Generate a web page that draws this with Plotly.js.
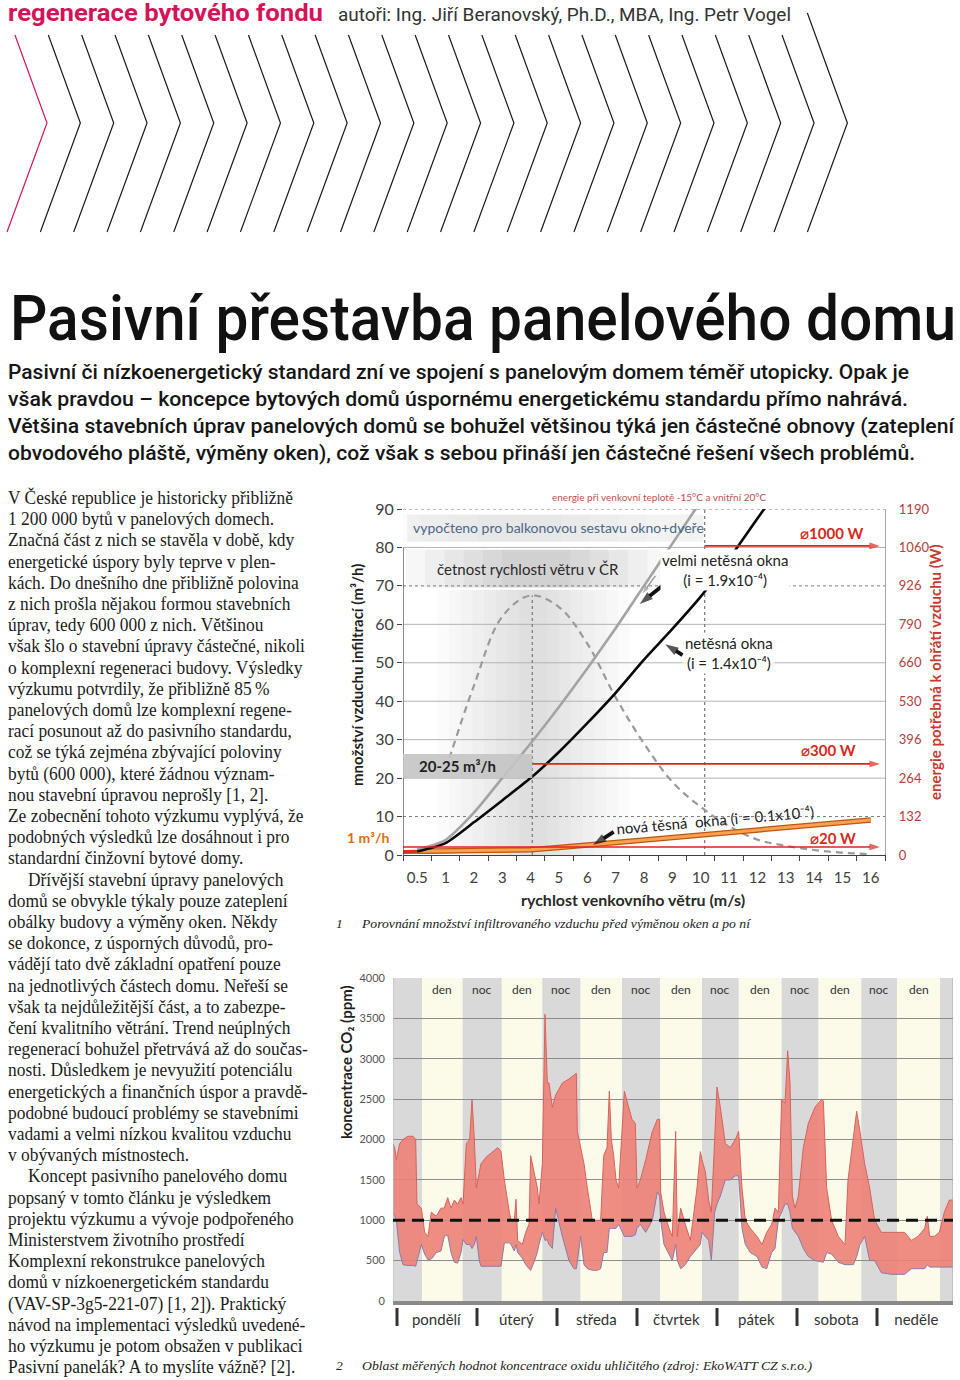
<!DOCTYPE html>
<html lang="cs">
<head>
<meta charset="utf-8">
<script src="https://cdn.plot.ly/plotly-3.0.1.min.js"></script>
<style>
html,body{margin:0;padding:0;background:#fff;}
#page{position:relative;width:960px;height:1380px;overflow:hidden;background:#fff;}
#plot{position:absolute;left:0;top:0;width:960px;height:1380px;}
.t{position:absolute;white-space:nowrap;transform-origin:0 0;line-height:normal;}
.bl{display:inline-block;width:0;height:0;vertical-align:baseline;}
</style>
</head>
<body>
<div id="page"><div id="plot"></div></div>
<script>
// ================= DATA =================
// Chart 1 – infiltration vs. wind speed (categorical wind axis)
const windLabels = ['0.5','1','2','3','4','5','6','7','8','9','10','11','12','13','14','15','16'];
const flowTickVals = [0,10,20,30,40,50,60,70,80,90];
const energyTickText = ['0','132','264','396','530','660','790','926','1060','1190'];
const veryLeakyWindows = [1.4, 3.9, 11, 20, 29, 38.5, 48.5, 59, 70, 81, 92];
const leakyWindows = [0.9, 3.1, 8.5, 14.2, 20, 26.8, 34.3, 42.2, 50.8, 58.8, 67.2, 77, 87.5, 98];
const newTightWindows = [1.0, 1.05, 1.1, 1.2, 1.35, 1.95, 2.6, 3.25, 3.9, 4.55, 5.2, 5.85, 6.5, 7.15, 7.8, 8.45, 9.1];
const windFrequency = [null, 22, 44, 62, 67.5, 64.5, 55, 41, 29, 19, 12.5, 7.5, 4, 2.4, 1.3, 0.6, 0.2];
const minFlowX = [-0.5, 4];
const minFlow = [0.8, 1.3];
const powerLevels = [{label:'⌀1000 W', flow:80.4, from:10.14}, {label:'⌀300 W', flow:23.7, from:4.06}, {label:'⌀20 W', flow:2.1, from:-0.5}];
const powerArrowEnd = 16.32;
// pointer arrows: tail -> head (category index, flow)
const pointerArrows = [
  {x:[8.4, 7.95], y:[72.6, 68], color:'#9a9a9a', width:1.4, head:8},
  {x:[8.83, 7.85], y:[71.1, 65.3], color:'#111', width:3.8, head:14},
  {x:[9.36, 8.75], y:[52, 54.8], color:'#111', width:3.8, head:14},
  {x:[6.93, 6.2], y:[6, 2.6], color:'#111', width:3.8, head:14}
];

// Chart 2 – CO2 concentration over a week
const weekDays = ['pondělí','úterý','středa','čtvrtek','pátek','sobota','neděle'];
const dayStart = [8.7, 32.6, 56.2, 80.1, 103.7, 127.6, 151.2];
const dayEnd = [20.9, 44.8, 68.7, 92.7, 116.6, 140.5, 164.1];
const co2Limit = 1000;
const co2Hours = [0,0.5,1,2,3,4.5,6,6.8,7.2,8.5,9.5,10.5,11.5,13,14.4,15.4,16.4,17.4,18.4,19.4,20.4,21,22,23,23.7,24.4,25,25.9,26.4,27.9,29.9,31.4,32.4,33.4,34.9,35.4,36.4,36.9,37.4,38.8,39.8,40.8,41.3,42.3,43.3,43.8,44.8,45.6,46.3,46.8,47.8,48.8,50.8,52.8,54.3,55,55.3,56.3,57.3,58.3,59.8,61.3,62.3,63.2,64.2,64.9,65.5,66.2,66.9,67.7,68.7,69.4,70.7,71.7,72.7,73.2,74.2,75.8,77.8,79.3,80,80.3,81.3,82.8,83.8,84.8,85.3,86.3,87.7,89.2,91.2,92.2,92.7,93.7,94.7,95.5,96.5,97.2,98.2,99.7,101.2,102.7,103.7,104.7,105.7,107.2,109.2,110.7,112.1,113.6,114.6,115.6,116.6,117.6,118.4,119.1,119.8,120.6,121.6,123.1,124.6,126.6,128.6,129.1,130.1,131.6,133.6,135.6,136.5,138.1,139.1,140.1,141.5,143,144.5,146.5,149.5,153.5,155.5,157.5,159.5,160.3,161,162.4,163.9,165.4,166.9,168];
const co2Max = [1950,1900,1750,1950,2000,2040,2040,2000,1200,1150,850,800,1100,1050,1150,1150,1280,1150,1250,1200,1280,1200,1950,2000,2500,2000,1400,1600,1700,1780,1850,1900,1850,1500,1100,1000,1000,1260,750,700,850,950,1800,1600,1400,1200,1700,3550,2700,2700,2400,2550,2700,2750,2800,2820,2100,1900,1700,1400,1000,1000,1000,1800,1900,2600,2000,1800,1500,1400,2100,2600,2400,2250,2200,1400,1500,1750,2100,2250,2250,1350,1100,900,800,2100,800,1150,950,750,1400,1850,1750,1600,1250,1100,2000,2650,2400,1950,1900,2000,2100,1400,1000,900,800,700,850,950,1150,1100,2500,2450,3100,2700,1300,1150,1300,1900,2200,2400,2500,2480,1400,1000,800,700,1500,2000,2350,2100,1700,1400,1000,850,850,850,750,800,900,1050,800,800,850,1100,1250,1250];
const co2Min = [1100,1050,1000,600,450,440,440,430,500,700,580,510,520,600,620,800,820,600,480,470,600,760,700,700,650,700,800,500,430,430,430,430,430,720,720,700,620,700,600,530,450,400,380,480,600,700,850,750,760,700,650,1150,800,500,400,400,500,800,450,400,380,380,400,600,600,900,900,900,900,950,850,800,800,800,820,900,950,850,1000,1350,1300,1000,700,570,500,700,500,400,450,550,650,700,850,800,750,500,1100,1200,1300,1500,1500,1550,1550,900,700,600,550,420,400,600,650,1000,1100,1200,1200,1100,900,850,800,650,550,500,480,480,600,580,480,450,450,450,550,700,800,500,500,350,330,330,400,400,400,450,420,420,420,420,420,420];

// ================= HELPERS =================
const X = p => p/960;
const Y = p => 1 - p/1380;
const FONT = 'Lato, "DejaVu Sans", sans-serif';
const catIdx = windLabels.map((_, i) => i);
const catBounds = windLabels.map((_, i) => i - 0.5).concat([windLabels.length - 0.5]);

function bands(cx, hMax, hMin, n, y0, y1, color){
  const out = [];
  for(let i=0;i<n;i++){
    const h = hMax - (hMax-hMin)*i/(n-1);
    out.push({type:'rect', xref:'x', yref:'y', x0:cx-h, x1:cx+h, y0:y0, y1:y1, fillcolor:color, line:{width:0}, layer:'below'});
  }
  return out;
}

// ================= TRACES =================
const traces = [
  {x: catIdx, y: windFrequency, xaxis:'x', yaxis:'y', mode:'lines', connectgaps:false, hoverinfo:'skip',
   line:{color:'#9a9a9a', width:2.2, dash:'7px,5px', shape:'spline', smoothing:1}},
  {x: minFlowX, y: minFlow, xaxis:'x', yaxis:'y', mode:'lines', hoverinfo:'skip', line:{color:'#d9301c', width:4}},
  {x: catIdx, y: newTightWindows, xaxis:'x', yaxis:'y', mode:'lines', hoverinfo:'skip', line:{color:'#c0550f', width:5.5}},
  {x: catIdx, y: newTightWindows, xaxis:'x', yaxis:'y', mode:'lines', hoverinfo:'skip', line:{color:'#f7a24e', width:3}},
  {x: catIdx.slice(0, veryLeakyWindows.length), y: veryLeakyWindows, xaxis:'x', yaxis:'y', mode:'lines', hoverinfo:'skip',
   line:{color:'#a3a3a3', width:2.6, shape:'spline', smoothing:0.6}},
  {x: catIdx.slice(0, leakyWindows.length), y: leakyWindows, xaxis:'x', yaxis:'y', mode:'lines', hoverinfo:'skip',
   line:{color:'#0a0a0a', width:2.6, shape:'spline', smoothing:0.6}},
  {x:[0], y:[0], xaxis:'x', yaxis:'y2', mode:'markers', marker:{opacity:0}, hoverinfo:'skip'}
];
// red power-level arrows
powerLevels.forEach(p => traces.push({
  x:[p.from, powerArrowEnd], y:[p.flow, p.flow], xaxis:'x', yaxis:'y', mode:'lines+markers', hoverinfo:'skip', cliponaxis:false,
  line:{color:'#e0241b', width:1.6},
  marker:{symbol:'arrow', angleref:'previous', size:[0, 11], color:'#e0241b', line:{width:0}}
}));
// pointer arrows
pointerArrows.forEach(a => traces.push({
  x:a.x, y:a.y, xaxis:'x', yaxis:'y', mode:'lines+markers', hoverinfo:'skip', cliponaxis:false,
  line:{color:a.color, width:a.width},
  marker:{symbol:'arrow', angleref:'previous', size:[0, a.head], color:a.color, line:{width:0}}
}));
// chart 2 band (min / max envelope)
traces.push(
  {x: co2Hours, y: co2Min, xaxis:'x2', yaxis:'y3', mode:'lines', hoverinfo:'skip', line:{color:'#8d7aa8', width:1}},
  {x: co2Hours, y: co2Max, xaxis:'x2', yaxis:'y3', mode:'lines', fill:'tonexty', fillcolor:'rgba(236,126,116,0.88)', hoverinfo:'skip', line:{color:'#d8625b', width:1}}
);

// ================= SHAPES =================
const shapes = [];
// chart 1 shading
shapes.push(...bands(4.1, 3.4, 0.5, 8, 0, 69, 'rgba(0,0,0,0.015)'));
shapes.push({type:'rect', xref:'x', yref:'y', x0:-0.35, x1:10.1, y0:81.5, y1:88.6, fillcolor:'#f3f3f3', line:{width:0}, layer:'below'});
shapes.push(...bands(3.6, 4.5, 1.5, 4, 81.5, 88.6, 'rgba(0,0,0,0.012)'));
shapes.push(...bands(4.2, 4.6, 1.2, 6, 69.6, 79.4, 'rgba(0,0,0,0.03)'));
// chart 1 grid
[20,30,40,50,60,80].forEach(v => shapes.push({type:'line', xref:'x', yref:'y', x0:-0.5, x1:16.5, y0:v, y1:v, line:{color:'#b3b3b3', width:1}, layer:'below'}));
[10,70,90].forEach(v => shapes.push({type:'line', xref:'x', yref:'y', x0:-0.5, x1:16.5, y0:v, y1:v, line:{color:'#7a7a7a', width:1, dash:'dot'}, layer:'below'}));
// vertical dotted markers
shapes.push({type:'line', xref:'x', yref:'y', x0:4.06, x1:4.06, y0:0, y1:67.5, line:{color:'#777', width:1.2, dash:'dot'}, layer:'below'});
shapes.push({type:'line', xref:'x', yref:'y', x0:10.14, x1:10.14, y0:0, y1:90, line:{color:'#777', width:1.2, dash:'dot'}, layer:'below'});
// left axis line
shapes.push({type:'line', xref:'x', yref:'y', x0:-0.5, x1:-0.5, y0:0, y1:80, line:{color:'#404040', width:1.2}});
// 20-25 box
shapes.push({type:'rect', xref:'x', yref:'y', x0:-0.5, x1:4.06, y0:20, y1:26.3, fillcolor:'rgba(196,196,196,0.9)', line:{width:0}, layer:'above'});

// chart 2 background bands
shapes.push({type:'rect', xref:'x2', yref:'y3', x0:0, x1:168, y0:0, y1:4000, fillcolor:'#d9d9d9', line:{width:0}, layer:'below'});
dayStart.forEach((s, i) => shapes.push({type:'rect', xref:'x2', yref:'y3', x0:s, x1:dayEnd[i], y0:0, y1:4000, fillcolor:'#fcfbea', line:{width:0}, layer:'below'}));
shapes.push({type:'line', xref:'x2', yref:'y3', x0:168, x1:168, y0:0, y1:4000, line:{color:'#a6a6a6', width:1}});
shapes.push({type:'line', xref:'x2', yref:'y3', x0:0, x1:0, y0:0, y1:4000, line:{color:'#bdbdbd', width:1}});
shapes.push({type:'line', xref:'x2', yref:'y3', x0:0, x1:168, y0:co2Limit, y1:co2Limit, line:{color:'#111', width:3, dash:'12px,7px'}, layer:'above'});
shapes.push({type:'line', xref:'x2', yref:'paper', x0:0, x1:168, y0:Y(1303), y1:Y(1303), line:{color:'#8a8a8a', width:4}});
for(let d=0; d<=weekDays.length; d++){
  shapes.push({type:'line', xref:'x2', yref:'paper', x0:24*d+1.2, x1:24*d+1.2, y0:Y(1308), y1:Y(1326), line:{color:'#333', width:3}});
}

// chevrons
for(let k=0;k<25;k++){
  const ax = 47 + 33.35*k;
  const topY = (k===24) ? 13 : 35;
  const topX = ax - 0.364*(123-topY);
  const botX = ax - 40;
  shapes.push({type:'path', xref:'paper', yref:'paper',
    path:`M ${X(topX)},${Y(topY)} L ${X(ax)},${Y(123)} L ${X(botX)},${Y(232)}`,
    line:{color: k===0 ? '#d3145a' : '#1a1a1a', width:1.2}});
}

// ================= ANNOTATIONS =================
const A = o => Object.assign({xref:'x', yref:'y', showarrow:false, font:{family:FONT, size:15, color:'#222'}}, o);
const annotations = [
  A({x:5.0, y:85.3, text:'vypočteno pro balkonovou sestavu okno+dveře', font:{family:FONT, size:14, color:'#4a6788'}}),
  A({x:3.9, y:74.4, text:'četnost rychlosti větru v ČR', font:{family:FONT, size:15, color:'#2a2a2a'}}),
  A({x:10.85, y:74.1, text:'velmi netěsná okna<br>(i = 1.9x10⁻⁴)', bgcolor:'#fff', borderpad:1}),
  A({x:10.99, y:52.6, text:'netěsná okna<br>(i = 1.4x10⁻⁴)', bgcolor:'#fff', borderpad:1}),
  A({x:1.41, y:23.2, text:'20-25 m³/h', font:{family:FONT, size:15, color:'#222', weight:'bold'}}),
  A({x:10.5, y:9.1, text:'nová těsná  okna (i = 0.1x10⁻⁴)', textangle:-5}),
  A({xref:'paper', yref:'paper', x:X(368), y:Y(837), text:'1 m³/h', font:{family:FONT, size:14, color:'#e36c09', weight:'bold'}}),
  A({xref:'paper', yref:'paper', x:X(768), y:Y(497), text:'energie při venkovní teplotě -15°C a vnitřní 20°C', font:{family:FONT, size:10, color:'#c0504d'}}),
  A({xref:'paper', yref:'paper', x:X(357), y:Y(675), textangle:-90, text:'množství vzduchu infiltrací (m³/h)', font:{family:FONT, size:15, color:'#1f1f1f', weight:'bold'}}),
  A({xref:'paper', yref:'paper', x:X(946), y:Y(672), textangle:-90, text:'energie potřebná k ohřátí vzduchu (W)', font:{family:FONT, size:15, color:'#c63a32', weight:'bold'}}),
  A({xref:'paper', yref:'paper', x:X(633), y:Y(899), text:'rychlost venkovního větru (m/s)', font:{family:FONT, size:16, color:'#2a2a2a', weight:'bold'}}),
  A({xref:'paper', yref:'paper', x:X(346), y:Y(1141), textangle:-90, text:'koncentrace CO₂ (ppm)', font:{family:FONT, size:15, color:'#1f1f1f', weight:'bold'}})
];
const powerLabelPos = [[14.63, 83.8], [14.49, 27.3], [14.66, 4.4]];
powerLevels.forEach((p, i) => {
  annotations.push(A({x:powerLabelPos[i][0], y:powerLabelPos[i][1], text:p.label, font:{family:FONT, size:15, color:'#d42a20', weight:'bold'}}));
});
// den / noc labels (skip the partial first and last night bands)
const bandEdges = [0].concat(...dayStart.map((s,i)=>[s, dayEnd[i]])).concat([168]);
for(let i=1;i<bandEdges.length-2;i++){
  const c = (bandEdges[i]+bandEdges[i+1])/2;
  const isDay = i % 2 === 1;
  annotations.push(A({xref:'x2', yref:'y3', x:c, y:3860, text: isDay ? 'den' : 'noc', font:{family:FONT, size:12, color:'#333'}}));
}

// ================= LAYOUT =================
const layout = {
  width:960, height:1380, margin:{l:0, r:0, t:0, b:0},
  paper_bgcolor:'#fff', plot_bgcolor:'#fff', showlegend:false,
  font:{family:FONT, color:'#333'},
  xaxis:{domain:[X(403), X(885)], anchor:'y', range:[-0.5, 16.5], tickmode:'array', tickvals:catIdx, ticktext:windLabels,
    ticks:'', showline:true, linecolor:'#404040', linewidth:1.2, showgrid:false, zeroline:false,
    tickfont:{family:FONT, size:15, color:'#404040'}, ticklabelstandoff:9,
    minor:{tickmode:'array', tickvals:catBounds, ticks:'outside', ticklen:5, tickcolor:'#404040', showgrid:false}},
  yaxis:{domain:[Y(855), Y(509)], anchor:'x', range:[0, 90], tickmode:'array', tickvals:flowTickVals,
    ticks:'outside', ticklen:5, tickcolor:'#404040', showgrid:false, zeroline:false, showline:false,
    tickfont:{family:FONT, size:16, color:'#404040'}},
  yaxis2:{overlaying:'y', side:'right', anchor:'x', range:[0, 90], tickmode:'array', tickvals:flowTickVals, ticktext:energyTickText,
    ticks:'', showgrid:false, zeroline:false, showline:true, linecolor:'#a6a6a6', linewidth:1.2,
    tickfont:{family:FONT, size:13, color:'#b5403c'}, ticklabelstandoff:10},
  xaxis2:{domain:[X(393), X(953)], anchor:'y3', range:[0, 168], tickmode:'array',
    tickvals:weekDays.map((_, i) => 24*i + 13), ticktext:weekDays, ticks:'', showline:false, showgrid:false, zeroline:false,
    tickfont:{family:FONT, size:15, color:'#333'}, ticklabelstandoff:8},
  yaxis3:{domain:[Y(1301), Y(978)], anchor:'x2', range:[0, 4000], tickmode:'linear', tick0:0, dtick:500,
    showgrid:true, gridcolor:'#8c8c8c', gridwidth:1, ticks:'', zeroline:false, showline:false,
    tickfont:{family:FONT, size:11, color:'#555'}, ticklabelstandoff:7},
  shapes: shapes,
  annotations: annotations
};

Plotly.newPlot('plot', traces, layout, {staticPlot:true, displayModeBar:false});

// ================= ARTICLE TEXT =================
const page = document.getElementById('page');
function place(text, x, base, o){
  const d = document.createElement('div');
  d.className = 't';
  d.style.left = x + 'px';
  d.style.fontFamily = o.family;
  d.style.fontSize = o.size + 'px';
  d.style.fontWeight = o.weight || 400;
  d.style.fontStyle = o.style || 'normal';
  d.style.color = o.color || '#1a1a1a';
  d.appendChild(document.createTextNode(text));
  const m = document.createElement('span'); m.className = 'bl'; d.appendChild(m);
  page.appendChild(d);
  d.style.top = (base - m.offsetTop) + 'px';
  const w = d.getBoundingClientRect().width;
  if(o.w){ d.style.transform = `scaleX(${o.w / w})`; }
  else if(o.scale){ d.style.transform = `scaleX(${o.scale})`; }
  return {el:d, w:w};
}

const SANS = 'Roboto, "Noto Sans", sans-serif';
const SERIF = '"Liberation Serif", "DejaVu Serif", serif';
place('regenerace bytového fondu', 8, 21, {family:SANS, weight:700, size:23, color:'#d3145a', w:315});
place('autoři: Ing. Jiří Beranovský, Ph.D., MBA, Ing. Petr Vogel', 338, 21, {family:SANS, weight:400, size:18, color:'#333', w:453});
place('Pasivní přestavba panelového domu', 10, 340, {family:SANS, weight:500, size:63, color:'#111', w:946});

const leadLines = [
  'Pasivní či nízkoenergetický standard zní ve spojení s panelovým domem téměř utopicky. Opak je',
  'však pravdou – koncepce bytových domů úspornému energetickému standardu přímo nahrává.',
  'Většina stavebních úprav panelových domů se bohužel většinou týká jen částečné obnovy (zateplení',
  'obvodového pláště, výměny oken), což však s sebou přináší jen částečné řešení všech problémů.'
];
const leadWidths = [901, 900, 946, 907];
leadLines.forEach((t, i) => place(t, 8, 379 + 27*i, {family:SANS, weight:500, size:19.5, color:'#161616', w:leadWidths[i]}));

const bodyLines = [
'V České republice je historicky přibližně',
'1 200 000 bytů v panelových domech.',
'Značná část z nich se stavěla v době, kdy',
'energetické úspory byly teprve v plen-',
'kách. Do dnešního dne přibližně polovina',
'z nich prošla nějakou formou stavebních',
'úprav, tedy 600 000 z nich. Většinou',
'však šlo o stavební úpravy částečné, nikoli',
'o komplexní regeneraci budovy. Výsledky',
'výzkumu potvrdily, že přibližně 85\u2009%',
'panelových domů lze komplexní regene-',
'rací posunout až do pasivního standardu,',
'což se týká zejména zbývající poloviny',
'bytů (600 000), které žádnou význam-',
'nou stavební úpravou neprošly [1, 2].',
'Ze zobecnění tohoto výzkumu vyplývá, že',
'podobných výsledků lze dosáhnout i pro',
'standardní činžovní bytové domy.',
'\tDřívější stavební úpravy panelových',
'domů se obvykle týkaly pouze zateplení',
'obálky budovy a výměny oken. Někdy',
'se dokonce, z úsporných důvodů, pro-',
'vádějí tato dvě základní opatření pouze',
'na jednotlivých částech domu. Neřeší se',
'však ta nejdůležitější část, a to zabezpe-',
'čení kvalitního větrání. Trend neúplných',
'regenerací bohužel přetrvává až do součas-',
'nosti. Důsledkem je nevyužití potenciálu',
'energetických a finančních úspor a pravdě-',
'podobné budoucí problémy se stavebními',
'vadami a velmi nízkou kvalitou vzduchu',
'v obývaných místnostech.',
'\tKoncept pasivního panelového domu',
'popsaný v tomto článku je výsledkem',
'projektu výzkumu a vývoje podpořeného',
'Ministerstvem životního prostředí',
'Komplexní rekonstrukce panelových',
'domů v nízkoenergetickém standardu',
'(VAV-SP-3g5-221-07) [1, 2]). Praktický',
'návod na implementaci výsledků uvedené-',
'ho výzkumu je potom obsažen v publikaci',
'Pasivní panelák? A to myslíte vážně? [2].'
];
const bodyOpt = {family:SERIF, size:18, color:'#1c1c1c'};
const probe = place(bodyLines[0], 8, 504, Object.assign({}, bodyOpt, {w:285}));
const bodyScale = 285 / probe.w;
bodyLines.forEach((t, i) => {
  if(i === 0) return;
  const indent = t.startsWith('\t');
  place(t.replace('\t',''), indent ? 28 : 8, 504 + 21.2*i, Object.assign({}, bodyOpt, {scale: bodyScale}));
});

const capOpt = {family:SERIF, size:13.5, style:'italic', color:'#222'};
place('1', 336, 928, capOpt);
place('Porovnání množství infiltrovaného vzduchu před výměnou oken a po ní', 362, 928, Object.assign({}, capOpt, {w:388}));
place('2', 336, 1370, capOpt);
place('Oblast měřených hodnot koncentrace oxidu uhličitého (zdroj: EkoWATT CZ s.r.o.)', 362, 1370, Object.assign({}, capOpt, {w:450}));
</script>
</body>
</html>
